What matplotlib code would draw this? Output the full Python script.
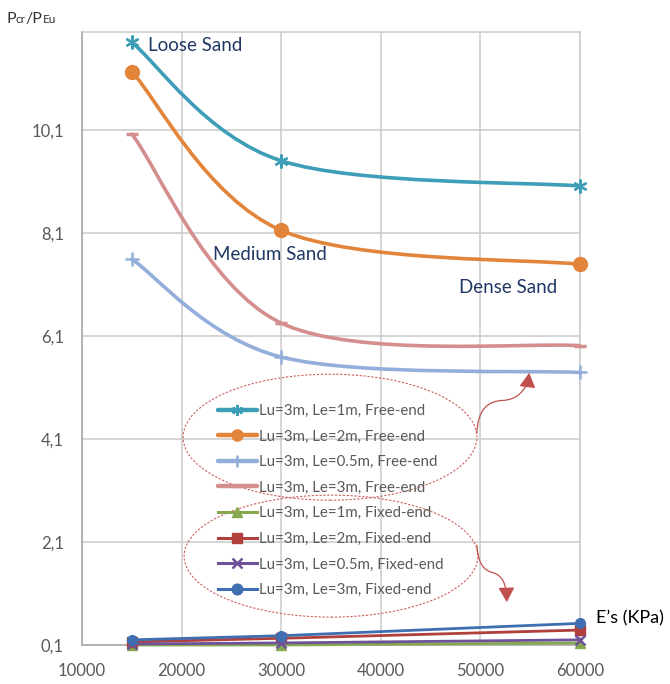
import numpy as np
import matplotlib
matplotlib.use("Agg")
import matplotlib.pyplot as plt
from matplotlib.path import Path
from matplotlib.patches import PathPatch, Ellipse, FancyArrowPatch
from matplotlib.lines import Line2D
from matplotlib.offsetbox import TextArea, HPacker, AnchoredOffsetbox

plt.rcParams['font.family'] = ['Lato', 'DejaVu Sans']

# soil modulus E's (KPa)
es = [15000, 30000, 60000]

# Pcr/PEu, free-end pile
free_le1 = [11.80, 9.50, 9.01]
free_le2 = [11.23, 8.15, 7.49]
free_le05 = [7.59, 5.69, 5.39]
free_le3 = [10.02, 6.35, 5.91]

# Pcr/PEu, fixed-end pile
fixed_le1 = [0.10, 0.10, 0.14]
fixed_le2 = [0.16, 0.23, 0.39]
fixed_le05 = [0.12, 0.14, 0.20]
fixed_le3 = [0.20, 0.28, 0.52]

labels = ["Lu=3m, Le=1m, Free-end", "Lu=3m, Le=2m, Free-end",
          "Lu=3m, Le=0.5m, Free-end", "Lu=3m, Le=3m, Free-end",
          "Lu=3m, Le=1m, Fixed-end", "Lu=3m, Le=2m, Fixed-end",
          "Lu=3m, Le=0.5m, Fixed-end", "Lu=3m, Le=3m, Fixed-end"]

x_ticks = [10000, 20000, 30000, 40000, 50000, 60000]
y_ticks = [0.1, 2.1, 4.1, 6.1, 8.1, 10.1]
y_tick_labels = ["0,1", "2,1", "4,1", "6,1", "8,1", "10,1"]

free_series = [free_le1, free_le2, free_le05, free_le3]
fixed_series = [fixed_le1, fixed_le2, fixed_le05, fixed_le3]

# style: color, marker, markersize, marker edge width
free_style = [("#3E9DB7", (6, 2, 0), 10, 1.6),
              ("#E2843A", "o", 10, 1.0),
              ("#93AEDA", "+", 10, 1.8),
              ("#D48E8E", "_", 8, 2.5)]
fixed_style = [("#86A84E", "^", 7, 1.0),
               ("#B0403C", "s", 7, 1.0),
               ("#6E529A", "x", 7, 1.8),
               ("#3F6FB0", "o", 7, 1.0)]


def smooth_path(xs, ys):
    # Excel-like smoothed line (Catmull-Rom as cubic Bezier)
    pts = np.column_stack([xs, ys]).astype(float)
    n = len(pts)
    verts = [pts[0]]
    codes = [Path.MOVETO]
    for i in range(n - 1):
        p0 = pts[max(i - 1, 0)]
        p1 = pts[i]
        p2 = pts[i + 1]
        p3 = pts[min(i + 2, n - 1)]
        verts += [p1 + (p2 - p0) / 6, p2 - (p3 - p1) / 6, p2]
        codes += [Path.CURVE4] * 3
    return Path(verts, codes)


fig = plt.figure(figsize=(6.7, 6.84), dpi=100)
ax = fig.add_axes([82 / 670, 1 - 645 / 684, 498 / 670, 613 / 684])
ax.set_xlim(10000, 60000)
ax.set_ylim(0.1, 12.0)
ax.set_xticks(x_ticks)
ax.set_yticks(y_ticks)
ax.set_yticklabels(y_tick_labels)
ax.tick_params(length=0, labelsize=12, labelcolor="#595959")
ax.tick_params(axis="x", pad=13)
ax.tick_params(axis="y", pad=13)
ax.grid(color="#CACACA", lw=1.1)
ax.set_axisbelow(True)
for side in ["top", "right"]:
    ax.spines[side].set_color("#CACACA")
    ax.spines[side].set_linewidth(1.1)
for side in ["left", "bottom"]:
    ax.spines[side].set_color("#A8A8A8")
    ax.spines[side].set_linewidth(1.2)

handles = []
for ys, (c, m, ms, mew) in zip(free_series, free_style):
    ax.add_patch(PathPatch(smooth_path(es, ys), fill=False, edgecolor=c,
                           lw=2.6, capstyle="round", clip_on=False, zorder=3))
    ax.plot(es, ys, ls="none", marker=m, ms=ms, mew=mew, color=c,
            clip_on=False, zorder=4)
    handles.append(Line2D([], [], color=c, lw=3.2, marker=m, ms=ms * 0.8,
                          mew=mew, solid_capstyle="round"))

for ys, (c, m, ms, mew) in zip(fixed_series, fixed_style):
    ax.plot(es, ys, color=c, lw=2.0, marker=m, ms=ms, mew=mew,
            clip_on=False, zorder=4)
    handles.append(Line2D([], [], color=c, lw=2.2, marker=m, ms=ms * 1.1,
                          mew=mew))

ax.legend(handles, labels, loc="upper left", bbox_to_anchor=(0.273, 0.393),
          frameon=False, fontsize=10.8, labelcolor="#595959", handlelength=2.6,
          handletextpad=0.12, labelspacing=0.77, borderaxespad=0, borderpad=0)

# dotted ellipses around the two legend groups
for cx, cy, h in [(0.498, 0.339, 0.2055), (0.500, 0.145, 0.199)]:
    ax.add_patch(Ellipse((cx, cy), 0.590, h, transform=ax.transAxes,
                         fill=False, edgecolor="#CD5F5C", lw=0.8,
                         linestyle=(0, (2, 1.5)), zorder=5))

# curved arrows
arrow_paths = [
    [(0.793, 0.346), (0.795, 0.385), (0.815, 0.398), (0.845, 0.399),
     (0.870, 0.400), (0.893, 0.412), (0.898, 0.444)],
    [(0.793, 0.163), (0.795, 0.135), (0.805, 0.122), (0.825, 0.118),
     (0.845, 0.113), (0.852, 0.100), (0.853, 0.070)],
]
for verts in arrow_paths:
    p = Path(verts, [Path.MOVETO] + [Path.CURVE4] * 6)
    ax.add_patch(FancyArrowPatch(path=p, transform=ax.transAxes,
                                 arrowstyle="-|>,head_length=0.45,head_width=0.25",
                                 mutation_scale=20, color="#C0504D", lw=0.9,
                                 zorder=5))

navy = "#1F3864"
ax.text(16630, 11.63, "Loose Sand", fontsize=13.5, color=navy, va="baseline")
ax.text(23150, 7.58, "Medium Sand", fontsize=13.5, color=navy, va="baseline")
ax.text(47850, 6.93, "Dense Sand", fontsize=13.5, color=navy, va="baseline")

fig.text(596 / 670, 1 - 623 / 684, "E\u2019s (KPa)", fontsize=13,
         color="black", va="baseline")

# y axis title with small (non-lowered) subscripts
parts = [("P", 11.5), ("cr", 8.5), ("/P", 11.5), ("Eu", 8.5)]
box = HPacker(children=[TextArea(t, textprops=dict(fontsize=s, color="#333333"))
                        for t, s in parts], align="baseline", pad=0, sep=0)
fig.add_artist(AnchoredOffsetbox(loc="lower left", child=box, frameon=False,
                                 pad=0, borderpad=0,
                                 bbox_to_anchor=(6 / 670, 1 - 26 / 684),
                                 bbox_transform=fig.transFigure))

fig.savefig("out.png", dpi=100)
